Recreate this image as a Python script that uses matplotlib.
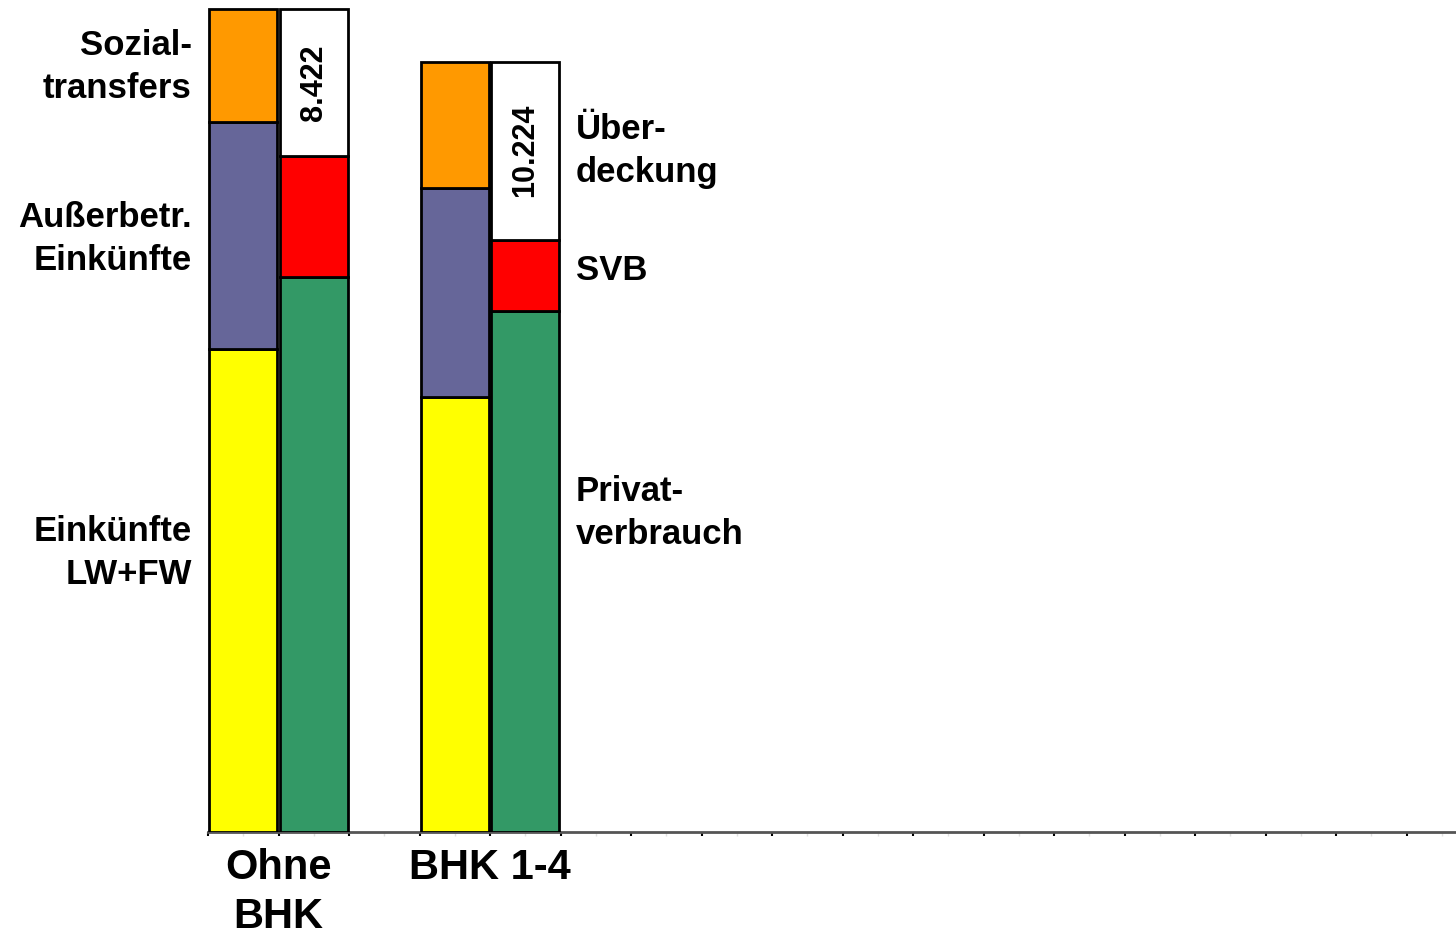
import matplotlib
matplotlib.use("Agg")
import matplotlib.pyplot as plt
import numpy as np

plt.rcParams['font.family'] = ['Liberation Sans', 'DejaVu Sans']

groups = ["Ohne\nBHK", "BHK 1-4"]
# Mittelherkunft (linke Säule)
einkuenfte_lwfw = [27700, 24960]
ausserbetr = [13020, 11990]
sozialtransfers = [6480, 7230]
# Mittelverwendung (rechte Säule)
privatverbrauch = [31840, 29890]
svb = [6940, 4070]
ueberdeckung = [8422, 10224]
ueberdeckung_labels = ["8.422", "10.224"]

col_yellow = "#FFFF00"
col_purple = "#666699"
col_orange = "#FF9900"
col_green = "#339966"
col_red = "#FF0000"
col_white = "#FFFFFF"

W, H = 1456, 936
fig = plt.figure(figsize=(W / 100, H / 100), dpi=100)
ax = fig.add_axes([208 / W, 104 / H, 1 - 208 / W, 832 / H])

n_slots = (1456 - 208) / 70.5
ax.set_xlim(0, n_slots)
ax.set_ylim(0, 47715)

src_slots = np.array([0, 3]) + 0.5
use_slots = np.array([1, 4]) + 0.5
bw = 0.97
kw = dict(width=bw, edgecolor="black", linewidth=2, zorder=3)

b = np.zeros(2)
for vals, c in [(einkuenfte_lwfw, col_yellow), (ausserbetr, col_purple), (sozialtransfers, col_orange)]:
    ax.bar(src_slots, vals, bottom=b, color=c, **kw)
    b = b + np.array(vals)

b = np.zeros(2)
for vals, c in [(privatverbrauch, col_green), (svb, col_red), (ueberdeckung, col_white)]:
    ax.bar(use_slots, vals, bottom=b, color=c, **kw)
    b = b + np.array(vals)

# value labels in Überdeckung
top_use = np.array(privatverbrauch) + np.array(svb)
for i in range(2):
    ax.text(use_slots[i], top_use[i] + ueberdeckung[i] / 2, ueberdeckung_labels[i],
            rotation=90, ha="center", va="center", fontsize=22, fontweight="bold", zorder=4)

# left labels (segments of first source bar)
lab_kw = dict(fontsize=25, fontweight="bold", linespacing=1.38)
y0 = np.array(einkuenfte_lwfw)
y1 = y0 + np.array(ausserbetr)
y2 = y1 + np.array(sozialtransfers)
xl = -0.23
ax.text(xl, (y1[0] + y2[0]) / 2 - 100, "Sozial-\ntransfers", ha="right", va="center", clip_on=False, **lab_kw)
ax.text(xl, (y0[0] + y1[0]) / 2 - 200, "Außerbetr.\nEinkünfte", ha="right", va="center", clip_on=False, **lab_kw)
ax.text(xl, 16000, "Einkünfte\nLW+FW", ha="right", va="center", clip_on=False, **lab_kw)

# right labels (segments of second use bar)
xr = 5.22
u0 = np.array(privatverbrauch)
u1 = u0 + np.array(svb)
u2 = u1 + np.array(ueberdeckung)
ax.text(xr, (u1[1] + u2[1]) / 2, "Über-\ndeckung", ha="left", va="center", **lab_kw)
ax.text(xr, (u0[1] + u1[1]) / 2 + 300, "SVB", ha="left", va="center", **lab_kw)
ax.text(xr, 18300, "Privat-\nverbrauch", ha="left", va="center", **lab_kw)

# category labels
for i, g in enumerate(groups):
    ax.text(src_slots[i] + 0.5, -900, g, ha="center", va="top", fontsize=30,
            fontweight="bold", linespacing=1.3, clip_on=False)

for s in ["left", "top", "right"]:
    ax.spines[s].set_visible(False)
ax.spines["bottom"].set_color("#555555")
ax.spines["bottom"].set_linewidth(2)
ax.spines["bottom"].set_zorder(2)

ax.set_xticks(np.arange(0, int(n_slots) + 1))
ax.set_xticklabels([])
ax.set_xticks(np.arange(0, int(n_slots) + 1) + 0.5, minor=True)
ax.tick_params(axis="x", which="major", direction="out", length=3, width=1.5, color="black")
ax.tick_params(axis="x", which="minor", direction="out", length=3, width=1, color="#e0e0e0", pad=0)
ax.set_yticks([])

fig.savefig("out.png", dpi=100)
